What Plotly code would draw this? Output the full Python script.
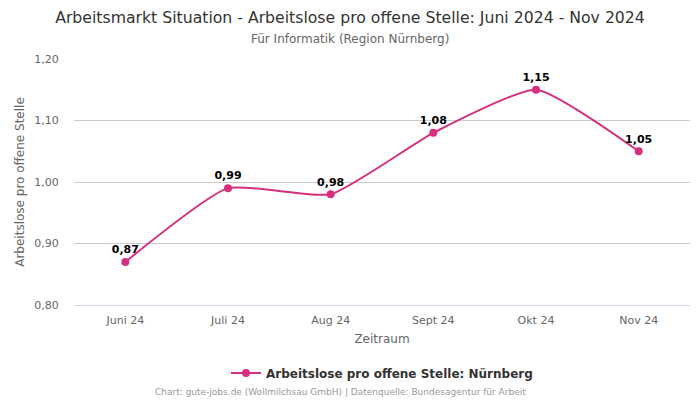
import plotly.graph_objects as go

months = ["Juni 24", "Juli 24", "Aug 24", "Sept 24", "Okt 24", "Nov 24"]
values = [0.87, 0.99, 0.98, 1.08, 1.15, 1.05]
labels = ["0,87", "0,99", "0,98", "1,08", "1,15", "1,05"]
y_ticks = [0.80, 0.90, 1.00, 1.10, 1.20]

color = "#d62f7f"
font = "DejaVu Sans"
OFF = 8          # page body margin offset
W, H = 700 - OFF, 400 - OFF
PL, PT, PR, PB = 74 - OFF, 59 - OFF, 10, 95
PH = H - PT - PB
PW = W - PL - PR

fig = go.Figure()
fig.add_trace(go.Scatter(
    x=months, y=values, mode="lines+markers+text",
    line=dict(color=color, width=2, shape="spline", smoothing=0.5),
    marker=dict(color=color, size=8),
    text=labels, textposition="top center",
    textfont=dict(family=font, size=11, color="#000000", weight="bold"),
    name="Arbeitslose pro offene Stelle: Nürnberg",
    cliponaxis=False,
))

fig.update_layout(
    width=W, height=H,
    margin=dict(l=PL, r=PR, t=PT, b=PB, autoexpand=False),
    paper_bgcolor="white", plot_bgcolor="white",
    separators=",.",
    font=dict(family=font, color="#666666"),
    title=dict(
        text="Arbeitsmarkt Situation - Arbeitslose pro offene Stelle: Juni 2024 - Nov 2024",
        x=(350 - OFF) / W, xanchor="center", xref="container",
        y=1 - (17 - OFF) / H, yanchor="middle", yref="container",
        font=dict(family=font, size=15.7, color="#333333"),
    ),
    showlegend=True,
    legend=dict(
        orientation="h", x=0.5, xanchor="center", y=-68 / PH, yanchor="middle",
        font=dict(family=font, size=12, color="#333333", weight="bold"),
        itemwidth=30,
    ),
    xaxis=dict(
        range=[-0.5, 5.5], showgrid=False, zeroline=False,
        showline=True, linecolor="#ccd6eb", linewidth=1,
        automargin=False,
        tickfont=dict(size=11, color="#666666"), ticks="outside", ticklen=5,
        tickcolor="rgba(0,0,0,0)",
        title=dict(text="Zeitraum", font=dict(size=12, color="#666666"), standoff=8),
    ),
    yaxis=dict(
        range=[0.80, 1.20], tickvals=y_ticks, tickformat=".2f",
        automargin=False,
        showgrid=True, gridcolor="#cccccc", gridwidth=1, zeroline=False,
        tickfont=dict(size=11, color="#666666"), ticks="outside", ticklen=12,
        tickcolor="rgba(0,0,0,0)",
        title=dict(text="Arbeitslose pro offene Stelle", font=dict(size=12, color="#666666"), standoff=7),
    ),
)
fig.add_annotation(
    text="Für Informatik (Region Nürnberg)",
    xref="paper", yref="paper", x=(350 - 74) / PW, y=1 + 20 / PH,
    xanchor="center", yanchor="middle", showarrow=False,
    font=dict(family=font, size=12, color="#666666"),
)
fig.add_annotation(
    text="Chart: gute-jobs.de (Wollmilchsau GmbH) | Datenquelle: Bundesagentur für Arbeit",
    xref="paper", yref="paper", x=(340 - 74) / PW, y=-87 / PH,
    xanchor="center", yanchor="middle",
    showarrow=False, font=dict(family=font, size=9, color="#999999"),
)

fig.write_html("out.html")
